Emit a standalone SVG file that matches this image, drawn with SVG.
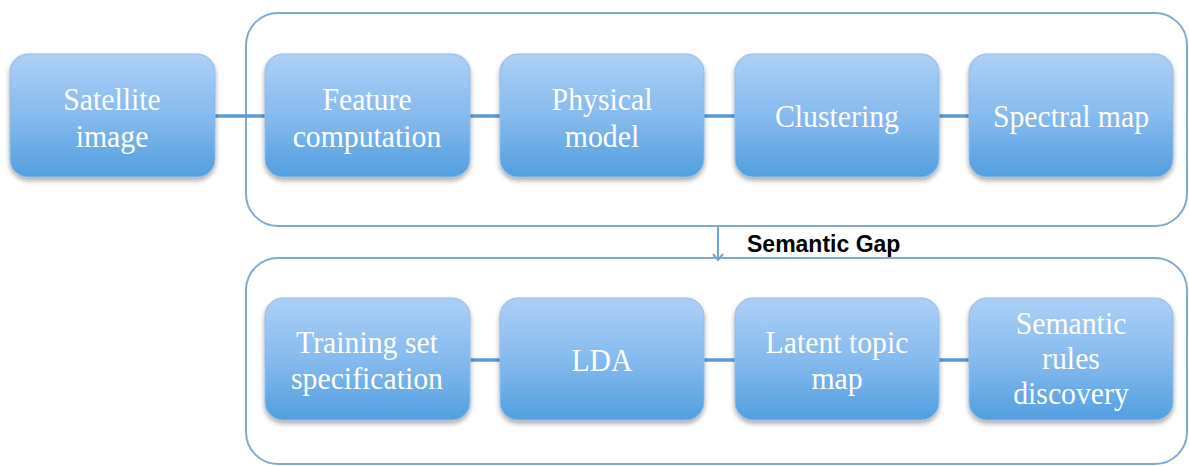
<svg xmlns="http://www.w3.org/2000/svg" width="1189" height="466" viewBox="0 0 1189 466">
<defs>
<linearGradient id="g" x1="0" y1="0" x2="0" y2="1">
<stop offset="0" stop-color="#acd0f7"/>
<stop offset="0.5" stop-color="#86baee"/>
<stop offset="1" stop-color="#519fe0"/>
</linearGradient>
<filter id="sh" x="-10%" y="-10%" width="120%" height="130%">
<feDropShadow dx="0" dy="3" stdDeviation="2.5" flood-color="#000" flood-opacity="0.35"/>
</filter>
<marker id="ah" markerWidth="12" markerHeight="12" refX="9" refY="6" orient="auto" markerUnits="userSpaceOnUse">
<path d="M3,1 L9,6 L3,11" fill="none" stroke="#6fa6d8" stroke-width="2"/>
</marker>
</defs>
<style>
.box{fill:url(#g);stroke:#8fbbe6;stroke-width:1;filter:url(#sh)}
.t{font-size:32px;fill:#fff;text-anchor:middle}
.cont{fill:#fff;stroke:#7fa9d2;stroke-width:2}
.c{stroke:#5b9bd5;stroke-width:3.5;fill:none}
</style>
<rect width="1189" height="466" fill="#fff"/>
<g id="containers">
<rect class="cont" x="246" y="13" width="941" height="213" rx="32"/>
<rect class="cont" x="246" y="258" width="941" height="206" rx="32"/>
</g>
<g id="connectors">
<line class="c" x1="215" y1="116" x2="265" y2="116"/>
<line class="c" x1="470" y1="116" x2="500" y2="116"/>
<line class="c" x1="704" y1="116" x2="735" y2="116"/>
<line class="c" x1="939" y1="116" x2="969" y2="116"/>
<line class="c" x1="470" y1="360" x2="500" y2="360"/>
<line class="c" x1="704" y1="360" x2="735" y2="360"/>
<line class="c" x1="939" y1="360" x2="969" y2="360"/>
<line x1="718" y1="227" x2="718" y2="260" stroke="#6fa6d8" stroke-width="2" marker-end="url(#ah)"/>
</g>
<text x="747" y="252" font-family="Liberation Sans, Arial, sans-serif" font-weight="bold" font-size="23" fill="#000">Semantic Gap</text>
<g font-family="Liberation Serif, Times New Roman, DejaVu Serif, serif">
<g id="n1"><rect class="box" x="10" y="54" width="205" height="123" rx="18"/><text class="t" transform="translate(112,110) scale(0.93,1)">Satellite</text><text class="t" transform="translate(112,147) scale(0.93,1)">image</text></g>
<g id="n2"><rect class="box" x="265" y="54" width="205" height="123" rx="18"/><text class="t" transform="translate(367,110) scale(0.93,1)">Feature</text><text class="t" transform="translate(367,147) scale(0.93,1)">computation</text></g>
<g id="n3"><rect class="box" x="500" y="54" width="204" height="123" rx="18"/><text class="t" transform="translate(602,110) scale(0.93,1)">Physical</text><text class="t" transform="translate(602,147) scale(0.93,1)">model</text></g>
<g id="n4"><rect class="box" x="735" y="54" width="204" height="123" rx="18"/><text class="t" transform="translate(837,127) scale(0.93,1)">Clustering</text></g>
<g id="n5"><rect class="box" x="969" y="54" width="204" height="123" rx="18"/><text class="t" transform="translate(1071,127) scale(0.93,1)">Spectral map</text></g>
<g id="n6"><rect class="box" x="265" y="298" width="205" height="122" rx="18"/><text class="t" transform="translate(367,353) scale(0.93,1)">Training set</text><text class="t" transform="translate(367,389) scale(0.93,1)">specification</text></g>
<g id="n7"><rect class="box" x="500" y="298" width="204" height="122" rx="18"/><text class="t" transform="translate(602,371) scale(0.93,1)">LDA</text></g>
<g id="n8"><rect class="box" x="735" y="298" width="204" height="122" rx="18"/><text class="t" transform="translate(837,353) scale(0.93,1)">Latent topic</text><text class="t" transform="translate(837,389) scale(0.93,1)">map</text></g>
<g id="n9"><rect class="box" x="969" y="298" width="204" height="122" rx="18"/><text class="t" transform="translate(1071,334) scale(0.93,1)">Semantic</text><text class="t" transform="translate(1071,369) scale(0.93,1)">rules</text><text class="t" transform="translate(1071,404) scale(0.93,1)">discovery</text></g>
</g>
</svg>
